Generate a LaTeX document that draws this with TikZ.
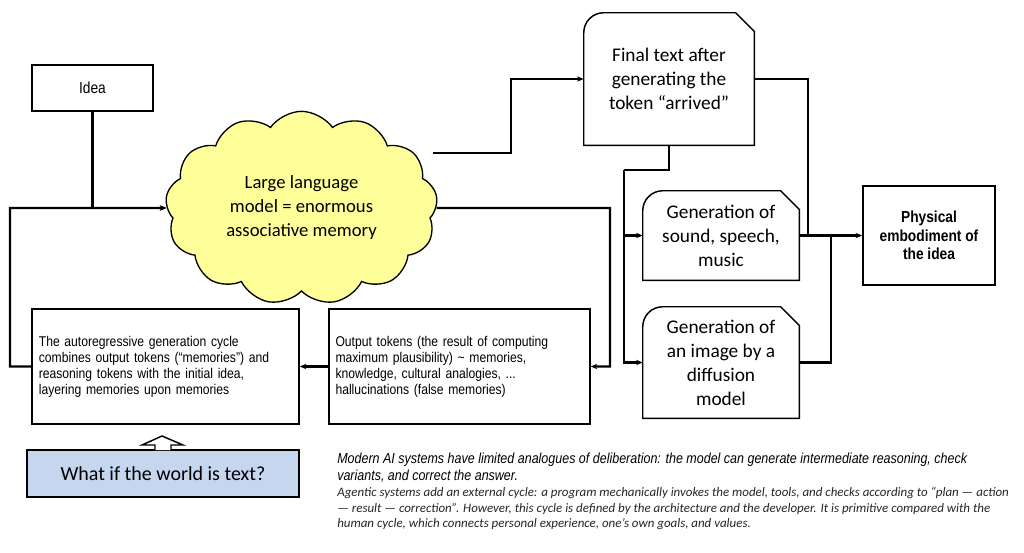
\documentclass[tikz,border=0pt]{standalone}
\usepackage{fontspec}
\setmainfont{Liberation Sans}
\newfontfamily\calib{Carlito}
\newfontfamily\narrowf[FakeStretch=0.86]{Liberation Sans}
\usetikzlibrary{shapes.symbols,arrows.meta}
\definecolor{cloudy}{HTML}{FFFF99}
\definecolor{bluebox}{HTML}{C6D6EE}
\tikzset{
  con/.style={line width=1.6pt,-{Stealth[length=5pt,width=4pt]}},
  line/.style={line width=1.6pt},
  box/.style={draw,line width=1pt,rectangle,inner sep=0pt,align=center},
  abox/.style={box,align=left,font=\narrowf\fontsize{10.6}{12}\selectfont},
  cbox/.style={rectangle,inner sep=0pt,align=center,font=\calib\fontsize{14.5}{18}\selectfont},
  boxline/.style={line width=1.1pt}
}
\newcommand\cutbox[1]{\draw[boxline] (#1.south west) -- ([yshift=-15pt]#1.north west) arc[start angle=180,end angle=90,radius=15pt] -- ([xshift=-14pt]#1.north east) -- ([yshift=-14pt]#1.north east) -- (#1.south east) -- cycle;}
\begin{document}
\begin{tikzpicture}[x=0.75pt,y=-0.75pt]
\useasboundingbox (0,0) rectangle (1024,553);
\fill[white] (0,0) rectangle (1024,553);
% nodes
\node[box,minimum width=90.75pt,minimum height=34.5pt,font=\narrowf\fontsize{12}{14}\selectfont] (idea) at (92.5,88) {Idea};
\node[cloud,draw,line width=1pt,fill=cloudy,cloud puffs=13,cloud puff arc=110,aspect=1.4,minimum width=204pt,minimum height=145pt,inner sep=0pt,align=center,font=\calib\fontsize{14}{18}\selectfont] (cloud) at (301.5,208) {Large language\\model = enormous\\associative memory};
\node[abox,minimum width=200.25pt,minimum height=86.25pt,text width=190pt] (auto) at (165.5,366.5) {The autoregressive generation cycle\\combines output tokens (“memories”) and\\reasoning tokens with the initial idea,\\layering memories upon memories};
\node[abox,minimum width=195.75pt,minimum height=86.25pt,text width=186pt] (out) at (459.5,366.5) {Output tokens (the result of computing\\maximum plausibility) \textasciitilde{} memories,\\knowledge, cultural analogies, ...\\hallucinations (false memories)};
\node[cbox,minimum width=127.5pt,minimum height=99pt] (final) at (669,79) {Final text after\\generating the\\token “arrived”};
\node[cbox,minimum width=117pt,minimum height=66.75pt] (sound) at (721,235.5) {Generation of\\sound, speech,\\music};
\node[cbox,minimum width=117pt,minimum height=83.25pt] (image) at (721,362.5) {Generation of\\an image by a\\diffusion\\model};
\cutbox{final}\cutbox{sound}\cutbox{image}
\node[box,line width=1.2pt,minimum width=99pt,minimum height=74.25pt,font=\bfseries\narrowf\fontsize{12}{14}\selectfont] (phys) at (929,235.5) {Physical\\embodiment of\\the idea};
\node[box,line width=1.2pt,fill=bluebox,minimum width=204pt,minimum height=35.25pt,font=\calib\fontsize{15}{18}\selectfont] (blue) at (163,473.5) {What if the world is text?};
% hollow up arrow
\draw[line width=1.1pt,fill=white] (155,450) -- (155,445) -- (142,445) -- (162,436) -- (183,445) -- (171,445) -- (171,450);
% bottom text
\node[anchor=north west,inner sep=0pt,align=left,font=\itshape\narrowf\fontsize{10.9}{12.75}\selectfont] (t1) at (337,453) {Modern AI systems have limited analogues of deliberation: the model can generate intermediate reasoning, check\\variants, and correct the answer.};
\node[anchor=north west,inner sep=0pt,align=left,font=\itshape\calib\fontsize{9.7}{11.6}\selectfont,text=black!85] (t2) at (337,487) {Agentic systems add an external cycle: a program mechanically invokes the model, tools, and checks according to “plan — action\\— result — correction”. However, this cycle is defined by the architecture and the developer. It is primitive compared with the\\human cycle, which connects personal experience, one’s own goals, and values.};
% coordinates
\coordinate (lx) at (10,208);
\coordinate (rx) at (610,208);
\coordinate (ux) at (511,153);
\coordinate (bx) at (624,170);
\coordinate (jx) at (808,235.5);
\coordinate (ix) at (831,235.5);
% connectors
\draw[con] (idea.south) |- (cloud.west);
\draw[con] (auto.west) -| (lx) -- (cloud.west);
\draw[con] (cloud.east) -- (rx) |- (out.east);
\draw[con] (out.west) -- (auto.east);
\draw[con] ([xshift=-3pt]cloud.east |- ux) -- (ux) |- (final.west);
\draw[line] (final.south) |- (bx);
\draw[con] (bx) |- (sound.west);
\draw[con] (bx) |- (image.west);
\draw[con] (final.east) -| (jx) -- (phys.west);
\draw[line] (sound.east) -- (jx);
\draw[line] (image.east) -| (ix);
\end{tikzpicture}
\end{document}
